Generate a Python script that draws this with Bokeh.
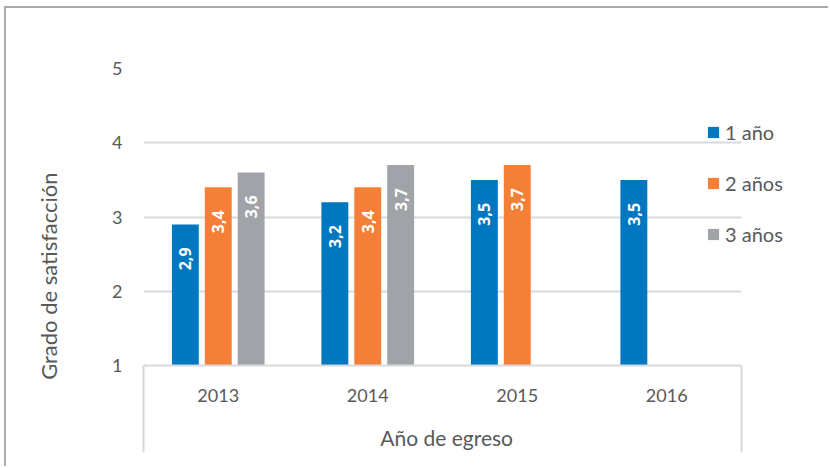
from math import pi
from bokeh.plotting import figure
from bokeh.models import (ColumnDataSource, Range1d, FixedTicker, Legend, LegendItem)
from bokeh.core.properties import value
from bokeh.embed import file_html
from bokeh.resources import INLINE

# ---- data ----
years = ["2013", "2014", "2015", "2016"]
series_names = ["1 año", "2 años", "3 años"]
one_year = [2.9, 3.2, 3.5, 3.5]
two_years = [3.4, 3.4, 3.7, None]
three_years = [3.6, 3.7, None, None]
y_ticks = [1, 2, 3, 4, 5]
colors = ["#0077BE", "#F48038", "#A0A4A8"]
offsets = [-0.22, 0.0, 0.22]
y_title = "Grado de satisfacción"
x_title = "Año de egreso"

FONT = "Lato"
TXT = "#595959"
GRID = "#D6D9DD"
NBSP = "\u00a0"

W, H = 824, 460
ML, MT, MB = 137, 60, 103
ncat = len(years)
px_per_cat = 149.5
x_end = (W - ML) / px_per_cat
cat_pos = [i + 0.5 for i in range(ncat)]
BOX_DEPTH = 87

p = figure(width=W, height=H, x_range=Range1d(0, x_end), y_range=Range1d(y_ticks[0], y_ticks[-1]),
           output_backend="svg", toolbar_location=None,
           min_border_left=ML, min_border_right=0, min_border_top=MT, min_border_bottom=MB)
p.outline_line_color = None
p.styles = {"margin-left": "4px", "margin-top": "6px",
            "border-left": "2px solid #ABABAB", "border-top": "2px solid #ABABAB"}

# y axis
p.yaxis.ticker = FixedTicker(ticks=y_ticks)
p.yaxis.axis_line_color = None
p.yaxis.major_tick_line_color = None
p.yaxis.minor_tick_line_color = None
p.yaxis.major_label_text_font = FONT
p.yaxis.major_label_text_font_size = "18px"
p.yaxis.major_label_text_color = TXT
p.yaxis.major_label_standoff = 15
# trailing no-break spaces move the centred title down, as in the original layout
p.yaxis.axis_label = y_title + NBSP * 21
p.yaxis.axis_label_text_font = FONT
p.yaxis.axis_label_text_font_style = "normal"
p.yaxis.axis_label_text_font_size = "22px"
p.yaxis.axis_label_text_color = TXT
p.yaxis.axis_label_standoff = 47

# x axis: category labels at centres, box verticals as minor ticks at the ends
p.xaxis.ticker = FixedTicker(ticks=cat_pos, minor_ticks=[0, ncat])
p.xaxis.major_label_overrides = {c: y for c, y in zip(cat_pos, years)}
p.xaxis.bounds = (0, ncat)
p.xaxis.axis_line_color = GRID
p.xaxis.axis_line_width = 2
p.xaxis.major_tick_line_color = None
p.xaxis.minor_tick_line_color = GRID
p.xaxis.minor_tick_line_width = 2
p.xaxis.minor_tick_in = 0
p.xaxis.minor_tick_out = BOX_DEPTH
p.xaxis.major_label_text_font = FONT
p.xaxis.major_label_text_font_size = "18px"
p.xaxis.major_label_text_color = TXT
p.xaxis.major_label_standoff = 23 - BOX_DEPTH
# trailing no-break spaces centre the title under the category box
p.xaxis.axis_label = x_title + NBSP * 15
p.xaxis.axis_label_text_font = FONT
p.xaxis.axis_label_text_font_style = "normal"
p.xaxis.axis_label_text_font_size = "21px"
p.xaxis.axis_label_text_color = TXT
p.xaxis.axis_label_standoff = 20

# grid
p.xgrid.grid_line_color = None
grid_ticks = [t for t in y_ticks if t > y_ticks[0]]
g = p.ygrid[0]
if hasattr(g, "cross_bounds"):
    g.ticker = FixedTicker(ticks=grid_ticks)
    g.grid_line_color = GRID
    g.grid_line_width = 2
    g.cross_bounds = (0, ncat)
else:
    g.grid_line_color = None
    p.segment(x0=[0] * len(grid_ticks), x1=[ncat] * len(grid_ticks), y0=grid_ticks, y1=grid_ticks,
              line_color=GRID, line_width=2, level="underlay")

# bars
all_series = [one_year, two_years, three_years]
items = []
for name, vals, col, off in zip(series_names, all_series, colors, offsets):
    xs = [c + off for c, v in zip(cat_pos, vals) if v is not None]
    vs = [v for v in vals if v is not None]
    labels = [f"{v:.1f}".replace(".", ",") for v in vs]
    src = ColumnDataSource(dict(x=xs, value=vs, label=labels))
    r = p.vbar(x="x", top="value", bottom=y_ticks[0], width=0.18,
               source=src, fill_color=col, line_color=None)
    p.text(x="x", y="value", text="label", source=src,
           angle=pi / 2, text_align="right", text_baseline="middle", y_offset=23,
           text_color="white", text_font=value("Open Sans"), text_font_style="bold",
           text_font_size="16px")
    items.append(LegendItem(label=name, renderers=[r]))

legend = Legend(items=items, location=(563, 119), orientation="vertical")
legend.padding = 0
legend.margin = 0
legend.spacing = 27
legend.glyph_width = 14
legend.glyph_height = 14
legend.label_standoff = 5
legend.label_height = 24
legend.label_text_font = FONT
legend.label_text_font_size = "20px"
legend.label_text_color = TXT
legend.border_line_color = None
legend.background_fill_alpha = 0
p.add_layout(legend)

open("out.html", "w").write(file_html(p, INLINE))
